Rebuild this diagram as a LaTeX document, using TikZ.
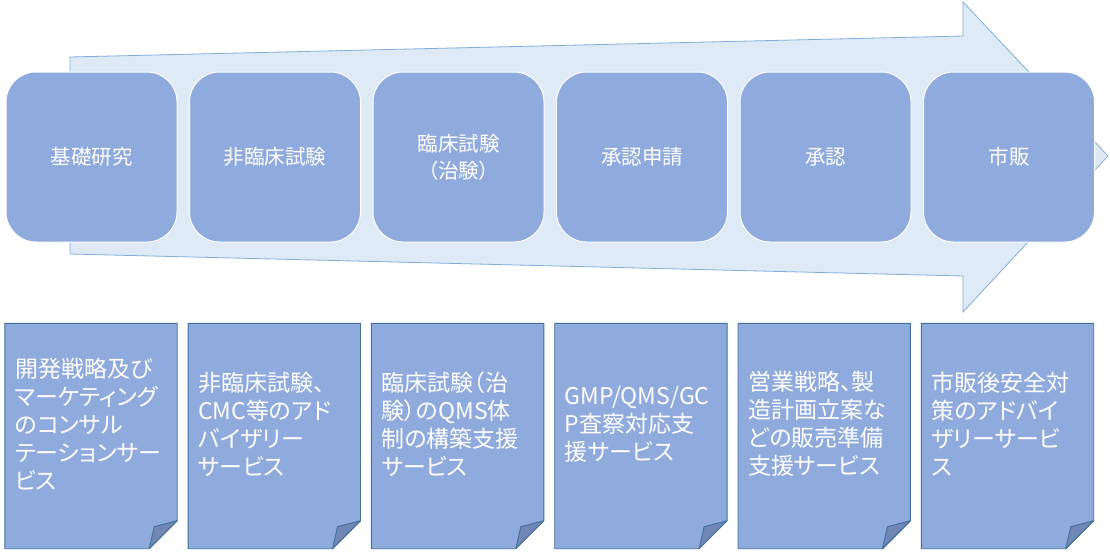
\documentclass[tikz,border=0pt]{standalone}
\usepackage{fontspec}
\newfontfamily\jpfont{Noto Sans CJK JP}[RawFeature=+palt]
\usepackage{tikz}
\usetikzlibrary{positioning,calc}
\definecolor{palArrow}{HTML}{DEEAF6}
\definecolor{palArrowLn}{HTML}{7FAEDD}
\definecolor{palStep}{HTML}{8FAADC}
\definecolor{palDocLn}{HTML}{41719C}
\definecolor{palFold}{HTML}{7086B5}
\tikzset{
  stepnode/.style={draw=white, fill=palStep, rounded corners=30pt, line width=1pt,
                   minimum width=171pt, minimum height=170pt, align=center,
                   text=white, font=\jpfont\fontsize{20.5}{27}\selectfont},
  docnode/.style={minimum width=172pt, minimum height=225pt, inner sep=0pt},
  doctext/.style={text=white, align=left, text width=152pt, inner sep=0pt,
                  font=\jpfont\fontsize{23}{28}\selectfont},
  docline/.style={draw=palDocLn, fill=palStep, line width=0.9pt, line join=round},
  foldline/.style={draw=palDocLn, fill=palFold, line width=0.9pt, line join=round},
}
\begin{document}
\begin{tikzpicture}[x=1pt, y=-1pt]
\def\xStep{183.5}   % horizontal spacing between steps
\def\yStep{157}     % y-position for step row
\def\xDoc{183.3}    % horizontal spacing between documents
\def\yDoc{436}      % y-position for document row
\def\fold{28}       % size of the folded corner

\useasboundingbox (0,0) rectangle (1110,551);

%% Process Arrow
\draw[fill=palArrow, draw=palArrowLn, line width=0.8pt]
  (70,57) -- (963,36) -- (963,2) -- (1108,156) -- (963,312) -- (963,276) -- (70,254) -- cycle;

%% Step Row
\foreach \i/\lbl in {0/基礎研究, 1/非臨床試験, 2/{臨床試験\\（治験）}, 3/承認申請, 4/承認, 5/市販} {
  \node[stepnode] (s\i) at (91.5+\i*\xStep, \yStep) {\lbl};
}

%% Service Documents
\foreach \i/\lbl in {0/{開発戦略及び\\マーケティング\\のコンサル\\テーションサー\\ビス},
                     1/{非臨床試験、\\CMC等のアド\\バイザリー\\サービス},
                     2/{臨床試験（治\\験）のQMS体\\制の構築支援\\サービス},
                     3/{GMP/QMS/GC\\P査察対応支\\援サービス},
                     4/{営業戦略、製\\造計画立案な\\どの販売準備\\支援サービス},
                     5/{市販後安全対\\策のアドバイ\\ザリーサービ\\ス}} {
  \node[docnode] (d\i) at (91+\i*\xDoc, \yDoc) {};
  \draw[docline] (d\i.north west) -- (d\i.north east) -- ($(d\i.south east)+(0,-\fold)$)
    -- ($(d\i.south east)+(-\fold,0)$) -- (d\i.south west) -- cycle;
  \draw[foldline] ($(d\i.south east)+(0,-\fold)$) -- ($(d\i.south east)+(-23,-22)$)
    -- ($(d\i.south east)+(-\fold,0)$) -- cycle;
  \node[doctext] (t\i) at ($(d\i.center)+(0,-12)$) {\lbl};
}
\end{tikzpicture}
\end{document}
